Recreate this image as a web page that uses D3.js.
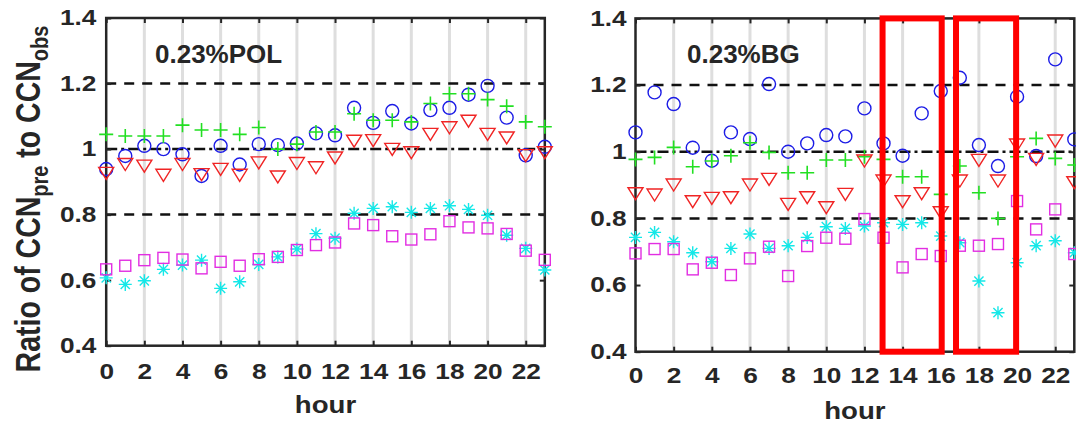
<!DOCTYPE html>
<html><head><meta charset="utf-8">
<script src="https://cdn.jsdelivr.net/npm/d3@7/dist/d3.min.js"></script>
<style>
body{margin:0;background:#fff}
text{font-family:"Liberation Sans",Arial,sans-serif;font-weight:bold;fill:#262626}
</style>
</head><body>
<svg id="c" width="1076" height="428"></svg>
<script>
// ---------- data ----------
const hours = [0,1,2,3,4,5,6,7,8,9,10,11,12,13,14,15,16,17,18,19,20,21,22,23];
const xTicks = [0,2,4,6,8,10,12,14,16,18,20,22];
const yTicks = [0.4,0.6,0.8,1,1.2,1.4];
const yTickLabels = ["0.4","0.6","0.8","1","1.2","1.4"];
const dashedLevels = [0.8,1.2];
const dashDotLevels = [1.0];
const panelTitles = ["0.23%POL","0.23%BG"];

// left panel (POL)
const polBlue    = [0.939,0.979,1.010,1.000,0.984,0.918,1.010,0.953,1.015,1.012,1.017,1.048,1.042,1.126,1.080,1.116,1.078,1.119,1.126,1.166,1.193,1.096,0.981,1.007];
const polGreen   = [1.045,1.040,1.040,1.040,1.073,1.058,1.058,1.045,1.066,1.000,1.015,1.052,1.052,1.108,1.088,1.088,1.083,1.139,1.169,1.169,1.151,1.131,1.083,1.068];
const polRed     = [0.929,0.956,0.951,0.923,0.956,0.925,0.941,0.923,0.961,0.918,0.959,0.946,0.976,1.027,1.029,1.002,0.992,1.048,1.068,1.088,1.048,1.037,0.983,0.992];
const polCyan    = [0.607,0.587,0.598,0.633,0.646,0.661,0.575,0.595,0.648,0.671,0.695,0.742,0.728,0.804,0.819,0.824,0.807,0.819,0.827,0.816,0.798,0.737,0.697,0.631];
const polMagenta = [0.633,0.644,0.661,0.668,0.663,0.636,0.656,0.644,0.664,0.671,0.692,0.707,0.715,0.773,0.768,0.734,0.724,0.740,0.780,0.761,0.758,0.741,0.690,0.662];

// right panel (BG)
const bgBlue    = [1.058,1.178,1.143,1.012,0.973,1.058,1.038,1.203,1.000,1.025,1.050,1.046,1.130,1.025,0.988,1.115,1.182,1.222,1.020,0.957,1.165,0.987,1.277,1.037];
const bgGreen   = [0.977,0.983,1.013,0.955,0.972,0.988,1.027,0.998,0.937,0.937,0.975,0.975,0.985,0.977,0.925,0.925,0.872,0.957,0.877,0.800,0.985,1.040,0.980,0.960];
const bgRed     = [0.877,0.873,0.903,0.853,0.863,0.865,0.903,0.920,0.845,0.865,0.835,0.875,0.975,0.915,0.853,0.877,0.820,0.915,0.977,0.915,1.023,0.980,1.035,0.910];
const bgCyan    = [0.743,0.758,0.730,0.697,0.670,0.710,0.753,0.710,0.718,0.743,0.775,0.770,0.777,0.787,0.782,0.787,0.747,0.727,0.612,0.517,0.667,0.718,0.733,0.697];
const bgMagenta = [0.695,0.708,0.708,0.647,0.667,0.630,0.680,0.715,0.627,0.717,0.742,0.739,0.798,0.742,0.653,0.693,0.687,0.718,0.718,0.723,0.852,0.767,0.827,0.693];

// highlight boxes on right panel: [hourStart, hourEnd]
const highlightHours = [[12.95,16.05],[16.8,19.95]];
const highlightRange = [0.4,1.4];

// ---------- drawing ----------
const svg = d3.select("#c");
const TXT = "#262626";
const colors = {blue:"#1c1ce6", green:"#22e022", red:"#f02424", cyan:"#14e8e8", magenta:"#e22ee2"};

const panels = [
  {x0:106.2, x1:544.8, y0:345.7, y1:18.0, title:panelTitles[0], titleX:155, titleY:63, ylabel:true, lp:8, bp:18.5,
   series:[[polBlue,"circle"],[polGreen,"plus"],[polRed,"tri"],[polCyan,"star"],[polMagenta,"square"]], hl:false},
  {x0:635.5, x1:1074.3, y0:351.7, y1:18.4, title:panelTitles[1], titleX:687, titleY:63, ylabel:false, lp:7.3, bp:16.5,
   series:[[bgBlue,"circle"],[bgGreen,"plus"],[bgRed,"tri"],[bgCyan,"star"],[bgMagenta,"square"]], hl:true}
];

const shapeColor = {circle:colors.blue, plus:colors.green, tri:colors.red, star:colors.cyan, square:colors.magenta};

function drawMarker(g, shape, col){
  if(shape==="circle"){
    g.append("circle").attr("r",6.5).attr("fill","none").attr("stroke",col).attr("stroke-width",1.4);
  } else if(shape==="plus"){
    g.append("path").attr("d","M-7,0H7M0,-7V7").attr("stroke",col).attr("stroke-width",1.6).attr("fill","none");
  } else if(shape==="tri"){
    g.append("path").attr("d","M-7.5,-5L7.5,-5L0,7Z").attr("stroke",col).attr("stroke-width",1.4).attr("fill","none");
  } else if(shape==="square"){
    g.append("rect").attr("x",-5.5).attr("y",-5.5).attr("width",11).attr("height",11).attr("fill","none").attr("stroke",col).attr("stroke-width",1.4);
  } else if(shape==="star"){
    g.append("path").attr("d","M-6.5,0H6.5M0,-6.5V6.5M-4.6,-4.6L4.6,4.6M-4.6,4.6L4.6,-4.6").attr("stroke",col).attr("stroke-width",1.4).attr("fill","none");
  }
}

panels.forEach(p=>{
  const x = d3.scaleLinear().domain([0,23]).range([p.x0,p.x1]);
  const y = d3.scaleLinear().domain([0.4,1.4]).range([p.y0,p.y1]);
  const g = svg.append("g");

  // vertical grid at even hours
  g.append("g").selectAll("line").data(xTicks.filter(d=>d>0)).join("line")
    .attr("x1",d=>x(d)).attr("x2",d=>x(d)).attr("y1",y(0.4)).attr("y2",y(1.4))
    .attr("stroke","#dedede").attr("stroke-width",3);

  // reference lines
  g.append("g").selectAll("line").data(dashedLevels).join("line")
    .attr("x1",x(0)).attr("x2",x(23)).attr("y1",d=>y(d)).attr("y2",d=>y(d))
    .attr("stroke","#111").attr("stroke-width",2.5).attr("stroke-dasharray","10,8");
  g.append("g").selectAll("line").data(dashDotLevels).join("line")
    .attr("x1",x(0)).attr("x2",x(23)).attr("y1",d=>y(d)).attr("y2",d=>y(d))
    .attr("stroke","#111").attr("stroke-width",2.5).attr("stroke-dasharray","11,4,3,4");

  // axes
  const xb = g.append("g").attr("transform",`translate(0,${p.y0})`)
    .call(d3.axisBottom(x).tickValues(xTicks).tickSize(-5).tickPadding(p.bp).tickFormat(d3.format("d")));
  const xt = g.append("g").attr("transform",`translate(0,${p.y1})`)
    .call(d3.axisTop(x).tickValues(xTicks).tickSize(-5).tickFormat(""));
  const yl = g.append("g").attr("transform",`translate(${p.x0},0)`)
    .call(d3.axisLeft(y).tickValues(yTicks).tickSize(-5).tickPadding(p.lp).tickFormat((d,i)=>yTickLabels[i]));
  const yr = g.append("g").attr("transform",`translate(${p.x1},0)`)
    .call(d3.axisRight(y).tickValues(yTicks).tickSize(-5).tickFormat(""));
  [xb,xt,yl,yr].forEach(a=>{
    a.select(".domain").remove();
    a.selectAll(".tick line").attr("stroke",TXT).attr("stroke-width",2);
  });
  xb.selectAll("text").attr("font-size",21.5).attr("fill",TXT).attr("transform","scale(1.22,1)");
  yl.selectAll("text").attr("font-size",21.5).attr("fill",TXT).attr("transform","scale(1.22,1)");

  // box
  g.append("rect").attr("x",p.x0).attr("y",p.y1).attr("width",p.x1-p.x0).attr("height",p.y0-p.y1)
    .attr("fill","none").attr("stroke",TXT).attr("stroke-width",2.5);

  // markers
  p.series.forEach(([vals,shape])=>{
    g.append("g").selectAll("g").data(hours).join("g")
      .attr("transform",(h,i)=>`translate(${x(h)},${y(vals[i])})`)
      .each(function(){ drawMarker(d3.select(this), shape, shapeColor[shape]); });
  });

  // title
  g.append("text").attr("x",p.titleX).attr("y",p.titleY).attr("font-size",26).text(p.title);

  // x label
  g.append("text").attr("transform",`translate(${(p.x0+p.x1)/2},${p.y0+67}) scale(1.15,1)`)
    .attr("text-anchor","middle").attr("font-size",24).text("hour");

  if(p.ylabel){
    const t = g.append("text").attr("transform",`translate(40,199) scale(1.2,1) rotate(-90)`)
      .attr("text-anchor","middle").attr("font-size",28.5);
    t.append("tspan").text("Ratio of CCN");
    t.append("tspan").attr("font-size",20).attr("dy",7).text("pre");
    t.append("tspan").attr("dy",-7).text(" to CCN");
    t.append("tspan").attr("font-size",20).attr("dy",7).text("obs");
  }

  if(p.hl){
    g.append("g").selectAll("rect").data(highlightHours).join("rect")
      .attr("x",d=>x(d[0])).attr("width",d=>x(d[1])-x(d[0]))
      .attr("y",y(highlightRange[1])).attr("height",y(highlightRange[0])-y(highlightRange[1]))
      .attr("fill","none").attr("stroke","#ff0000").attr("stroke-width",6);
  }
});
</script>
</body></html>
